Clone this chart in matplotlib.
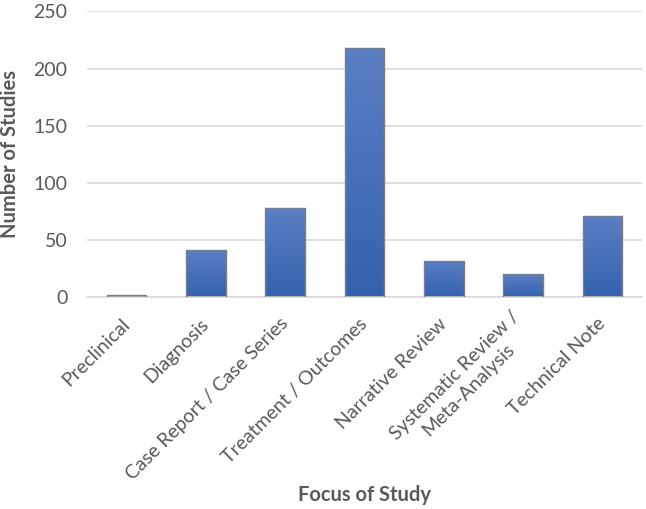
import numpy as np
import matplotlib
matplotlib.use("Agg")
import matplotlib.pyplot as plt
from matplotlib.colors import LinearSegmentedColormap

# data
categories = ["Preclinical", "Diagnosis", "Case Report / Case Series",
              "Treatment / Outcomes", "Narrative Review",
              "Systematic Review /\nMeta-Analysis", "Technical Note"]
counts = [2, 41, 78, 218, 32, 20, 71]
y_ticks = [0, 50, 100, 150, 200, 250]

plt.rcParams['font.family'] = ['Lato', 'DejaVu Sans']
grey = '#595959'

fig = plt.figure(figsize=(6.46, 5.09), dpi=100)
ax = fig.add_axes([0.1347, 0.4159, 0.8591, 0.5619])

x = np.arange(len(categories))
bars = ax.bar(x, counts, width=0.5, color='none', edgecolor='#7f7f7f',
              linewidth=1.0, zorder=3)

# vertical gradient inside each bar (lighter at the top)
cmap = LinearSegmentedColormap.from_list('blue', ['#3461ae', '#5b7fc4'])
grad = np.linspace(0, 1, 256).reshape(-1, 1)
for b in bars:
    x0, y0 = b.get_x(), b.get_y()
    w, h = b.get_width(), b.get_height()
    im = ax.imshow(grad, extent=[x0, x0 + w, y0, y0 + h], origin='lower',
                   cmap=cmap, aspect='auto', zorder=2)
    im.set_clip_path(b)

ax.set_xlim(-0.5, len(categories) - 0.5)
ax.set_ylim(0, 250)
ax.set_yticks(y_ticks)
ax.yaxis.grid(True, color='#d9d9d9', linewidth=1.2, zorder=0)
ax.set_axisbelow(True)
for s in ['top', 'right', 'left']:
    ax.spines[s].set_visible(False)
ax.spines['bottom'].set_color('#d9d9d9')
ax.spines['bottom'].set_linewidth(1.2)

ax.tick_params(axis='y', length=0, pad=14, labelsize=14, labelcolor=grey)
ax.tick_params(axis='x', length=0, pad=17, labelsize=14, labelcolor=grey)
ax.set_xticks(x)
ax.set_xticklabels(categories, rotation=45, ha='right', va='center',
                   rotation_mode='anchor', multialignment='center')

ax.set_xlabel('Focus of Study', fontsize=14.5, fontweight='bold', color=grey)
ax.set_ylabel('Number of Studies', fontsize=14.5, fontweight='bold', color=grey)
ax.xaxis.label.set_va('center')
ax.yaxis.label.set_va('center')
ax.xaxis.set_label_coords(0.5, -0.691)
ax.yaxis.set_label_coords(-0.139, 0.5)

fig.savefig('out.png', dpi=100)
